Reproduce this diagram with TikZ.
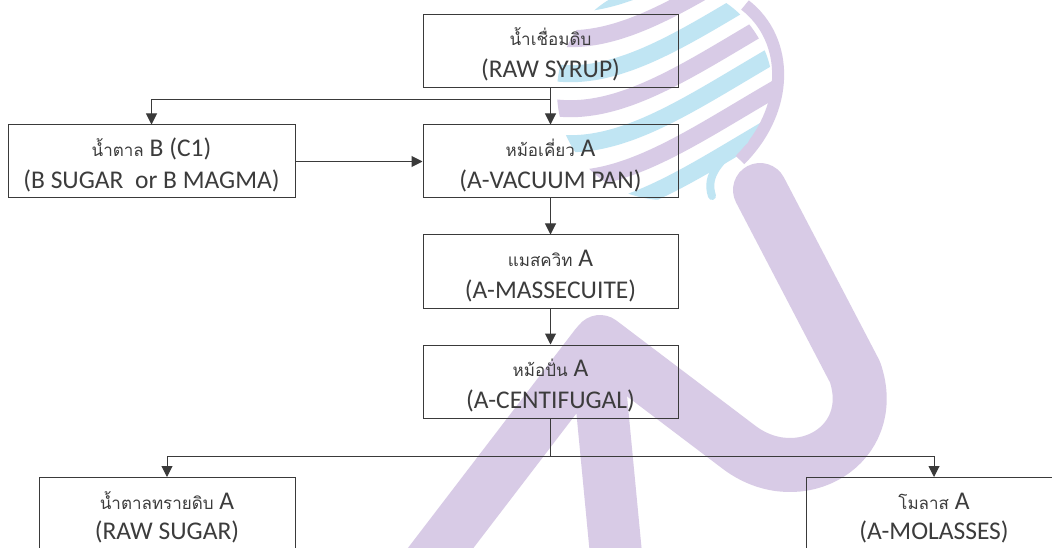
\documentclass[tikz,border=0pt]{standalone}
\usepackage{fontspec}
\setmainfont{Carlito}
\newfontfamily\thaifont[Script=Thai]{Loma}
\usetikzlibrary{arrows.meta}
\definecolor{flowline}{HTML}{3A3A3A}
\definecolor{flowtext}{HTML}{3C3C3C}
\definecolor{marklav}{HTML}{D8CBE6}
\definecolor{markcyan}{HTML}{C0E5F3}

% small thai caption on the first line of a box
\newcommand{\thl}[1]{\rule{0pt}{25pt}{\thaifont\fontsize{17}{30}\selectfont #1}}

\begin{document}
\begin{tikzpicture}[
    x=1pt, y=-1pt,
    stage/.style={draw=flowline, line width=1pt, minimum width=255pt, minimum height=73pt,
      align=center, inner sep=0pt, text=flowtext, font=\fontsize{25.5}{30}\selectfont},
    link/.style={draw=flowline, line width=1pt},
    arr/.style={link, -{Triangle[length=11pt, width=11pt]}},
    wm/.style={draw=marklav, line cap=round, line join=round},
  ]
  \useasboundingbox (0,0) rectangle (1052,548);
  \fill[white] (0,0) rectangle (1052,548);

  % ---- faint emblem behind the chart
  \begin{scope}
    \clip (665,92) circle (108);
    \foreach \o/\c in {-105/markcyan, -70/marklav, -35/markcyan, 0/marklav, 35/markcyan, 70/marklav, 105/markcyan}
      \draw[\c, line width=17] (540,105+\o) .. controls (620,125+\o) and (700,60+\o) .. (800,5+\o);
  \end{scope}
  \draw[marklav, line width=12] (745,5) .. controls (790,40) and (790,110) .. (740,160);
  \draw[markcyan, line width=8, line cap=round] (745,140) .. controls (720,160) and (705,175) .. (712,196);
  \path[wm, line width=52] (420,575) -- (596,345) -- (618,575);
  \path[wm, line width=54] (600,342) -- (740,448) .. controls (800,492) and (880,445) .. (855,372) -- (760,190);

  % ---- main line
  \node[stage] (syrup) at (550.5,51) {\thl{น้ำเชื่อมดิบ}\\[2pt](RAW SYRUP)};
  \node[stage] (pan) at (550.5,161.5) {\thl{หม้อเคี่ยว} A\\[2pt](A-VACUUM PAN)};
  \node[stage] (masse) at (550.5,271.5) {\thl{แมสควิท} A\\[2pt](A-MASSECUITE)};
  \node[stage] (centri) at (550.5,381.5) {\thl{หม้อปั่น} A\\[2pt](A-CENTIFUGAL)};

  % ---- side feed and products
  \node[stage, minimum width=287pt] (bsugar) at (151.5,161.5) {\thl{น้ำตาล} B (C1)\\[2pt](B SUGAR\ \ or B MAGMA)};
  \node[stage, minimum width=256pt] (rawsugar) at (167,514) {\thl{น้ำตาลทรายดิบ} A\\(RAW SUGAR)};
  \node[stage, minimum width=256pt] (molasses) at (934,514) {\thl{โมลาส} A\\(A-MOLASSES)};

  \coordinate (split1) at (550.5,100);
  \coordinate (split2) at (550.5,456);

  \draw[arr] (syrup) -- (pan);
  \draw[arr] (split1) -| (bsugar.north);
  \draw[arr] (bsugar) -- (pan);
  \draw[arr] (pan) -- (masse);
  \draw[arr] (masse) -- (centri);
  \draw[link] (centri) -- (split2);
  \draw[arr] (split2) -| (rawsugar.north);
  \draw[arr] (split2) -| (molasses.north);
\end{tikzpicture}
\end{document}
